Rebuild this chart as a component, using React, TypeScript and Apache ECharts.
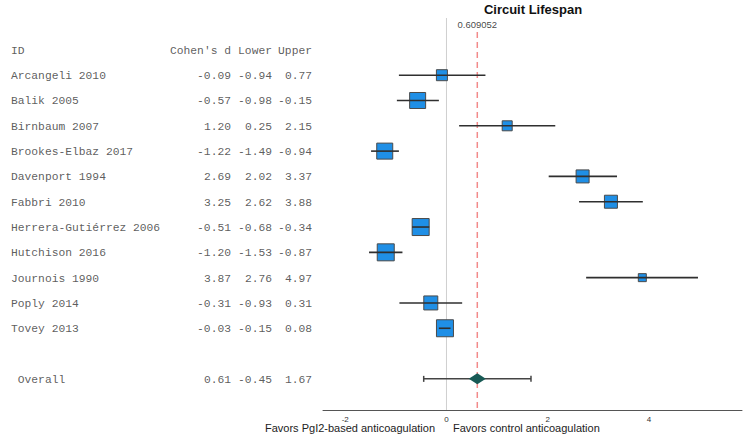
import React, { useEffect, useRef } from "react";
import * as echarts from "echarts";

const studies = [
  "Arcangeli 2010",
  "Balik 2005",
  "Birnbaum 2007",
  "Brookes-Elbaz 2017",
  "Davenport 1994",
  "Fabbri 2010",
  "Herrera-Gutiérrez 2006",
  "Hutchison 2016",
  "Journois 1990",
  "Poply 2014",
  "Tovey 2013",
];
const cohenD = [-0.09, -0.57, 1.2, -1.22, 2.69, 3.25, -0.51, -1.2, 3.87, -0.31, -0.03];
const lowerCI = [-0.94, -0.98, 0.25, -1.49, 2.02, 2.62, -0.68, -1.53, 2.76, -0.93, -0.15];
const upperCI = [0.77, -0.15, 2.15, -0.94, 3.37, 3.88, -0.34, -0.87, 4.97, 0.31, 0.08];
const studyWeightSize = [11, 16, 10, 16, 13, 13, 17, 17, 8, 14, 17];

const overallLabel = "Overall";
const overallD = 0.61;
const overallLower = -0.45;
const overallUpper = 1.67;
const pooledEstimate = 0.609052;

const headers = ["ID", "Cohen's d", "Lower", "Upper"];
const xTickValues = [-2, 0, 2, 4];
const title = "Circuit Lifespan";
const favorsLeft = "Favors PgI2-based anticoagulation";
const favorsRight = "Favors control anticoagulation";

export default function App() {
  const ref = useRef<HTMLDivElement>(null);

  useEffect(() => {
    if (!ref.current) return;
    const chart = echarts.init(ref.current, null, { renderer: "svg" });

    const Y_MIN = -2.26;
    const Y_MAX = 13.23;
    const OVERALL_ROW = 12;
    const HEADER_ROW = -1;

    const mono = "'Liberation Mono', 'DejaVu Sans Mono', monospace";
    const sans = "'Liberation Sans', Arial, sans-serif";

    // table texts
    const colName = 11;
    const colD = 231;
    const colL = 272;
    const colU = 312;
    const tableItems: any[] = [];
    const addText = (x: number, row: number, text: string, align: string) =>
      tableItems.push({ value: [x, row], label: { formatter: text, align } });
    addText(colName, HEADER_ROW, headers[0], "left");
    addText(colD, HEADER_ROW, headers[1], "right");
    addText(colL, HEADER_ROW, headers[2], "right");
    addText(colU, HEADER_ROW, headers[3], "right");
    studies.forEach((s, i) => {
      addText(colName, i, s, "left");
      addText(colD, i, cohenD[i].toFixed(2), "right");
      addText(colL, i, lowerCI[i].toFixed(2), "right");
      addText(colU, i, upperCI[i].toFixed(2), "right");
    });
    addText(colName, OVERALL_ROW, " " + overallLabel, "left");
    addText(colD, OVERALL_ROW, overallD.toFixed(2), "right");
    addText(colL, OVERALL_ROW, overallLower.toFixed(2), "right");
    addText(colU, OVERALL_ROW, overallUpper.toFixed(2), "right");

    const option: any = {
      animation: false,
      backgroundColor: "#ffffff",
      title: {
        text: title,
        left: 533,
        top: 3,
        padding: 0,
        textAlign: "center",
        textStyle: { fontFamily: sans, fontSize: 13, fontWeight: "bold", color: "#111" },
      },
      grid: [
        { left: 323, right: 8, top: 18, bottom: 30 },
        { left: 0, width: 323, top: 18, bottom: 30 },
      ],
      xAxis: [
        {
          gridIndex: 0,
          type: "value",
          min: -2.44,
          max: 5.84,
          axisLine: { show: true, onZero: false, lineStyle: { color: "#555", width: 1 } },
          axisTick: { show: false },
          splitLine: { show: false },
          axisLabel: {
            customValues: xTickValues,
            fontSize: 8,
            color: "#333",
            fontFamily: sans,
            margin: 5,
          },
        },
        { gridIndex: 1, type: "value", min: 0, max: 323, show: false },
      ],
      yAxis: [
        { gridIndex: 0, type: "value", min: Y_MIN, max: Y_MAX, inverse: true, show: false },
        { gridIndex: 1, type: "value", min: Y_MIN, max: Y_MAX, inverse: true, show: false },
      ],
      graphic: [
        {
          type: "text",
          x: 435,
          y: 428,
          style: {
            text: favorsLeft,
            align: "right",
            verticalAlign: "middle",
            fontSize: 11,
            fontFamily: sans,
            fill: "#222",
          },
        },
        {
          type: "text",
          x: 453,
          y: 428,
          style: {
            text: favorsRight,
            align: "left",
            verticalAlign: "middle",
            fontSize: 11,
            fontFamily: sans,
            fill: "#222",
          },
        },
      ],
      series: [
        {
          type: "line",
          xAxisIndex: 0,
          yAxisIndex: 0,
          data: [
            [0, Y_MIN],
            [0, Y_MAX],
          ],
          symbol: "none",
          lineStyle: { color: "#cfcfcf", width: 1 },
          z: 1,
          silent: true,
        },
        {
          type: "line",
          xAxisIndex: 0,
          yAxisIndex: 0,
          data: [
            [pooledEstimate, -1.71],
            [pooledEstimate, Y_MAX],
          ],
          symbol: "none",
          lineStyle: { color: "#f28a8a", width: 1.5, type: [6, 4] },
          z: 1,
          silent: true,
        },
        {
          type: "scatter",
          xAxisIndex: 0,
          yAxisIndex: 0,
          data: [[pooledEstimate, -2.02]],
          symbolSize: 0,
          label: {
            show: true,
            position: "inside",
            formatter: String(pooledEstimate),
            fontSize: 9.5,
            fontFamily: sans,
            color: "#111",
          },
          z: 5,
        },
        {
          type: "scatter",
          xAxisIndex: 0,
          yAxisIndex: 0,
          symbol: "rect",
          data: cohenD.map((d, i) => ({ value: [d, i], symbolSize: studyWeightSize[i] })),
          itemStyle: { color: "#1f8fe6", borderColor: "#4a4a4a", borderWidth: 1, opacity: 1 },
          z: 2,
        },
        {
          type: "custom",
          xAxisIndex: 0,
          yAxisIndex: 0,
          data: lowerCI.map((l, i) => [l, upperCI[i], i]),
          encode: { x: [0, 1], y: 2 },
          renderItem: (params: any, api: any) => {
            const a = api.coord([api.value(0), api.value(2)]);
            const b = api.coord([api.value(1), api.value(2)]);
            return {
              type: "line",
              shape: { x1: a[0], y1: a[1], x2: b[0], y2: b[1] },
              style: { stroke: "#2f2f2f", lineWidth: 1.6 },
            };
          },
          z: 3,
        },
        {
          type: "custom",
          xAxisIndex: 0,
          yAxisIndex: 0,
          data: [[overallLower, overallUpper, OVERALL_ROW]],
          encode: { x: [0, 1], y: 2 },
          renderItem: (params: any, api: any) => {
            const a = api.coord([api.value(0), api.value(2)]);
            const b = api.coord([api.value(1), api.value(2)]);
            const st = { stroke: "#444", lineWidth: 1.5 };
            return {
              type: "group",
              children: [
                { type: "line", shape: { x1: a[0], y1: a[1], x2: b[0], y2: b[1] }, style: st },
                { type: "line", shape: { x1: a[0], y1: a[1] - 3, x2: a[0], y2: a[1] + 3 }, style: st },
                { type: "line", shape: { x1: b[0], y1: b[1] - 3, x2: b[0], y2: b[1] + 3 }, style: st },
              ],
            };
          },
          z: 3,
        },
        {
          type: "scatter",
          xAxisIndex: 0,
          yAxisIndex: 0,
          symbol: "diamond",
          symbolSize: [17, 11],
          data: [[pooledEstimate, OVERALL_ROW]],
          itemStyle: { color: "#185a55", opacity: 1 },
          z: 4,
        },
        {
          type: "scatter",
          xAxisIndex: 1,
          yAxisIndex: 1,
          symbolSize: 0,
          data: tableItems,
          label: {
            show: true,
            position: "inside",
            offset: [0, 1],
            fontFamily: mono,
            fontSize: 11.3,
            color: "#333",
          },
          z: 5,
        },
      ],
    };

    chart.setOption(option);
    return () => chart.dispose();
  }, []);

  return (
    <div
      ref={ref}
      style={{ position: "fixed", left: 0, top: 0, width: 750, height: 440, background: "#fff" }}
    />
  );
}
